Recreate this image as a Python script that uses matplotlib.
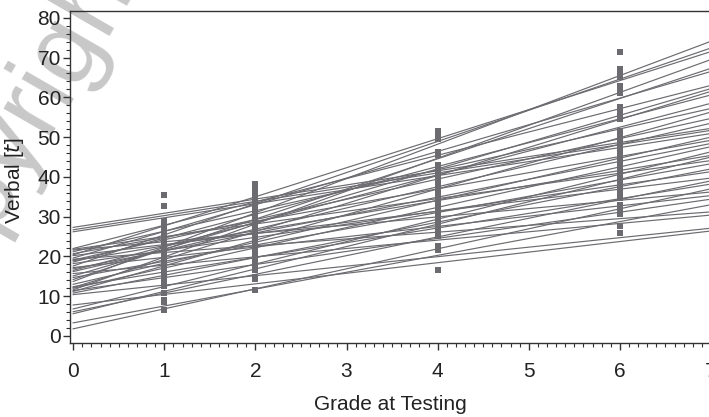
import numpy as np
import matplotlib.pyplot as plt
from matplotlib.ticker import MultipleLocator

# fitted lines: predicted score at grade 0 and at grade 7
start = [27.3, 26.7, 26.2, 22.0, 21.8, 21.6, 21.2, 20.7, 20.4, 20.2,
         19.6, 19.3, 19.1, 18.9, 18.6, 18.2, 17.6, 17.2, 16.9, 16.5,
         16.2, 15.7, 15.1, 14.7, 14.2, 13.7, 13.0, 12.4, 12.2, 12.0,
         11.6, 11.4, 11.2, 10.8, 10.4, 7.8, 6.8, 6.1, 5.6, 3.3, 1.8]
end = [52.2, 51.7, 50.9, 63.0, 44.1, 36.2, 57.2, 49.2, 71.5, 39.7,
       66.5, 31.2, 54.7, 45.4, 60.6, 41.3, 72.4, 35.3, 48.4, 58.5,
       53.5, 30.4, 62.2, 43.3, 67.3, 74.1, 50.0, 38.2, 61.5, 47.6,
       69.5, 34.4, 56.3, 42.0, 27.1, 26.4, 46.3, 39.0, 45.0, 33.0, 37.0]

# observed scores per grade
g1 = [35.5, 32.7, 28.9, 28.2, 27.5, 27.0, 26.5, 25.8, 25.2, 24.6, 24.0, 23.4,
      22.8, 22.4, 21.8, 21.2, 20.7, 20.2, 19.8, 19.2, 18.7, 18.1, 17.6, 17.0,
      16.5, 16.0, 15.4, 14.9, 14.3, 13.8, 13.2, 12.5, 10.8, 9.1, 8.5, 6.6]
g2 = [38.2, 37.2, 36.4, 35.6, 34.8, 34.0, 33.2, 32.5, 31.8, 31.0, 30.3, 29.6,
      28.8, 28.1, 27.4, 26.7, 26.0, 25.3, 24.6, 23.9, 23.2, 22.5, 21.8, 21.1,
      20.4, 19.6, 18.8, 18.1, 17.3, 16.6, 14.8, 14.4, 11.6]
g4 = [51.5, 50.5, 49.5, 46.3, 45.5, 42.9, 42.0, 41.2, 40.4, 39.6, 38.8, 38.0,
      37.2, 36.4, 35.6, 34.8, 34.0, 33.2, 32.4, 31.6, 30.8, 30.0, 29.2, 28.4,
      27.6, 26.8, 26.0, 25.2, 22.6, 22.0, 21.7, 16.7]
g6 = [71.3, 67.0, 66.0, 65.0, 62.8, 61.8, 61.0, 57.5, 56.5, 55.5, 54.6, 51.5,
      50.5, 49.8, 49.0, 48.2, 47.4, 46.6, 45.8, 45.0, 44.2, 43.4, 42.6, 41.8,
      41.0, 40.2, 39.2, 38.0, 36.8, 35.6, 34.6, 33.0, 32.2, 31.4, 30.6, 27.6, 26.0]
grades = [1, 2, 4, 6]
scores = [g1, g2, g4, g6]

plt.rcParams['font.family'] = ['Liberation Sans', 'DejaVu Sans']

fig = plt.figure(figsize=(7.09, 4.17), dpi=100)
# faint watermark in the top-left corner, kept behind the chart
fig.text(0.2088, 1.0935, 'Copyright', rotation=60, rotation_mode='anchor',
         ha='right', va='baseline', fontsize=75, color='#c8c8c8', zorder=-1)

ax = fig.add_axes([70/709, 74/417, 641/709, 332/417])
ax.patch.set_alpha(0)

gray = '#6b6b70'
for b0, b7 in zip(start, end):
    ax.plot([0, 7], [b0, b7], color=gray, lw=0.85, zorder=2)
for g, s in zip(grades, scores):
    ax.scatter([g]*len(s), s, s=14, marker='s', color=gray, lw=0, zorder=3)

ax.set_xlim(-0.035, 7.0)
ax.set_ylim(-1.76, 81.7)
ax.xaxis.set_major_locator(MultipleLocator(1))
ax.xaxis.set_minor_locator(MultipleLocator(0.1))
ax.yaxis.set_major_locator(MultipleLocator(10))
ax.yaxis.set_minor_locator(MultipleLocator(2))
ax.tick_params(which='major', length=5, width=1, color='#333333', labelsize=15,
               labelcolor='#222222')
ax.tick_params(which='minor', length=3, width=0.8, color='#333333')
ax.tick_params(axis='x', which='major', pad=9)
ax.tick_params(axis='y', which='major', pad=1.5)
for sp in ax.spines.values():
    sp.set_color('#333333')
    sp.set_linewidth(1)

ax.set_xlabel('Grade at Testing', fontsize=15, color='#222222', labelpad=10)
ax.set_ylabel('Verbal [$\\it{t}$]', fontsize=15, color='#222222')
ax.yaxis.set_label_coords(-0.069, 0.49)

fig.savefig('out.png', dpi=100)
